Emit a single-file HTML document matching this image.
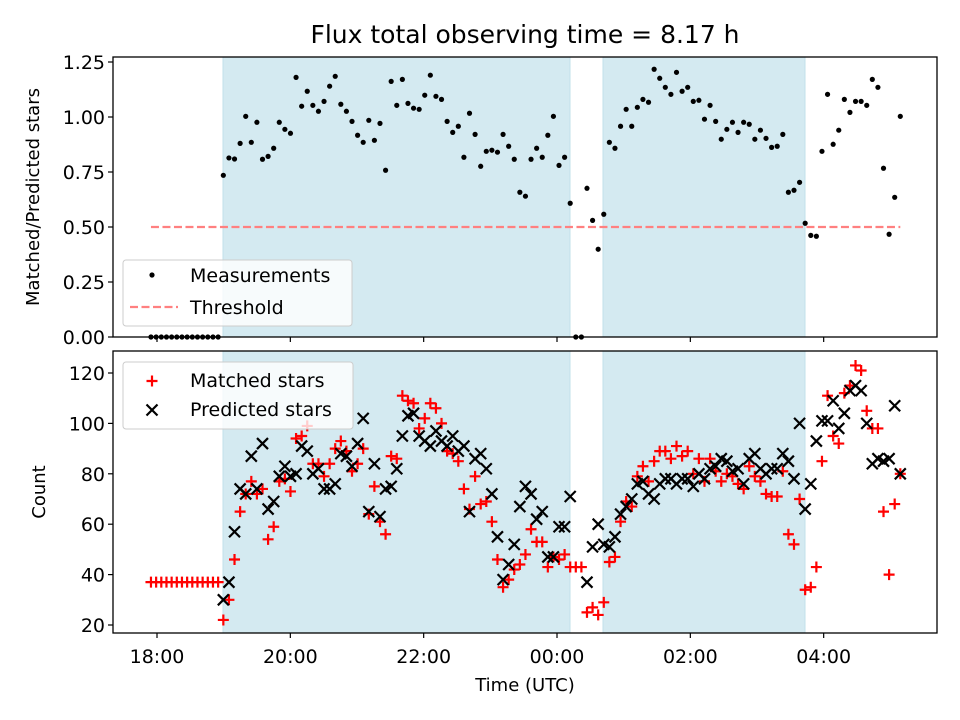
<!DOCTYPE html>
<html><head><meta charset="utf-8"><style>
body{margin:0;background:#fff}
svg{display:block;font-family:"DejaVu Sans","Liberation Sans",sans-serif}
</style></head><body>
<svg id="chart" width="960" height="720" viewBox="0 0 960 720" xmlns="http://www.w3.org/2000/svg">
<rect width="960" height="720" fill="#fff"/>
<text x="525" y="43" font-size="25" text-anchor="middle">Flux total observing time = 8.17 h</text>
<g id="gtop"></g><g id="gbot"></g>
<text transform="translate(39,197) rotate(-90)" font-size="18" text-anchor="middle">Matched/Predicted stars</text>
<text transform="translate(45,492) rotate(-90)" font-size="18" text-anchor="middle">Count</text>
<text x="525" y="691" font-size="18" text-anchor="middle">Time (UTC)</text>
</svg>
<script>
const startHour = 18.995;
const stepHour = 0.08392;
const prefixStepHour = 0.0775;
const prefixCount = 14;
const prefixMatched = 37;
const ratios = [.735,.814,.809,.880,1.003,.885,.976,.808,.821,.858,.976,.944,.926,1.180,1.049,1.117,1.053,1.026,1.071,1.140,1.185,1.058,1.026,.980,.917,.885,.985,.894,.971,.758,1.162,1.053,1.171,1.062,1.040,1.035,1.099,1.190,1.094,1.080,.980,.930,.958,.817,1.017,.921,.776,.844,.849,.840,.921,.867,.808,.658,.640,.808,
.858,.817,.917,1.003,.780,.817,.608,0,0,.676,.530,.399,.558,.885,.858,.958,1.035,.958,1.044,1.080,1.067,1.217,1.176,1.135,1.103,1.203,1.117,1.135,1.071,1.076,.990,1.053,.980,.899,.944,.976,.930,.976,.967,.899,.940,.903,.862,.867,.921,.658,.667,.703,.517,.462,.458,.844,1.103,.876,.940,1.080,1.021,1.071,1.071,1.053,1.171,1.135,.767,.467,.635,1.003];
const predicted = [30,37,57,74,72,87,74,92,66,69,79,83,79,80,91,89,80,82,74,74,76,88,87,83,92,102,65,84,63,74,75,82,95,103,104,95,93,91,97,93,91,95,89,91,65,86,88,82,72,55,38,44,52,67,75,72,62,65,47,47,59,59,71,null,null,37,51,60,52,51,55,64,67,70,76,77,72,70,76,78,78,76,78,78,75,80,78,82,83,86,85,81,82,76,86,88,82,80,82,82,88,85,78,100,66,76,93,101,101,109,98,104,113,115,113,100,84,86,85,86,107,80];
const matched = [22,30,46,65,72,77,72,74,54,59,77,78,73,94,95,99,84,84,79,84,90,93,89,81,84,90,64,75,61,56,87,86,111,109,108,98,102,108,106,100,89,88,85,74,66,79,68,69,61,46,35,38,42,44,48,58,53,53,43,47,46,48,43,43,43,25,27,24,29,45,47,61,69,67,79,83,77,85,89,89,86,91,87,89,80,86,77,86,81,77,80,79,76,74,83,79,77,72,71,71,81,56,52,70,34,35,43,85,111,95,92,112,115,123,121,105,98,98,65,40,68,80];
const xTickHours = [18,20,22,24,26,28];
const xTickLabels = ["18:00","20:00","22:00","00:00","02:00","04:00"];
const topTicks = [0,0.25,0.5,0.75,1.0,1.25];
const topTickLabels = ["0.00","0.25","0.50","0.75","1.00","1.25"];
const botTicks = [20,40,60,80,100,120];
const spans = [[18.99,24.195],[24.69,27.72]];
const threshold = 0.5;

const NS="http://www.w3.org/2000/svg";
const X0=113,X1=937;
const xs=h=>157+(h-18)*66.667;
const yTop=v=>337-v*220;
const yBot=v=>625-(v-20)*2.52;
const tAt=i=>i<0?startHour-0.0775+ (i+1)*prefixStepHour - 0.0005 : startHour+i*stepHour;
function mk(p,tag,a){const e=document.createElementNS(NS,tag);for(const k in a)e.setAttribute(k,a[k]);p.appendChild(e);return e;}
const gTop=document.getElementById('gtop'),gBot=document.getElementById('gbot');

function frame(g,y0,y1){
  for(const s of spans){
    const r=mk(g,'rect',{x:xs(s[0]),y:y0,width:xs(s[1])-xs(s[0]),height:y1-y0,fill:'#d4eaf1',stroke:'#c2e0ea','stroke-width':1});
    
    
  }
}
function axesBox(g,y0,y1,name,labels){
  const b=mk(g,'rect',{x:X0,y:y0,width:X1-X0,height:y1-y0,fill:'none',stroke:'#000','stroke-width':1.3});
  
  
  xTickHours.forEach((h,i)=>{
    mk(g,'line',{x1:xs(h),x2:xs(h),y1:y1,y2:y1+5,stroke:'#000','stroke-width':1.2});
    if(labels){const t=mk(g,'text',{x:xs(h),y:663,'font-size':19,'text-anchor':'middle'});t.textContent=xTickLabels[i];
      
      }
  });
}
// TOP
frame(gTop,57,337);
const th=mk(gTop,'line',{x1:xs(tAt(-prefixCount)),x2:xs(tAt(ratios.length-1)),y1:yTop(threshold),y2:yTop(threshold),stroke:'#ff8080','stroke-width':2.2,'stroke-dasharray':'8,3.5'});


for(let i=-prefixCount;i<ratios.length;i++){
  const v=i<0?0:ratios[i];
  const c=mk(gTop,'circle',{cx:xs(tAt(i)),cy:yTop(v),r:2.6,fill:'#000'});
  
  
}
axesBox(gTop,57,337,'top-axes',false);
topTicks.forEach((v,i)=>{
  mk(gTop,'line',{x1:X0-5,x2:X0,y1:yTop(v),y2:yTop(v),stroke:'#000','stroke-width':1.2});
  const t=mk(gTop,'text',{x:X0-8,y:yTop(v)+7,'font-size':19,'text-anchor':'end'});t.textContent=topTickLabels[i];
  
  
});
// BOTTOM
frame(gBot,351,633);
function plus(g,x,y){const p=mk(g,'path',{d:`M${x-5.5},${y}H${x+5.5}M${x},${y-5.5}V${y+5.5}`,stroke:'#f00','stroke-width':2.2});
  
  }
function cross(g,x,y){const p=mk(g,'path',{d:`M${x-5.5},${y-5.5}L${x+5.5},${y+5.5}M${x-5.5},${y+5.5}L${x+5.5},${y-5.5}`,stroke:'#000','stroke-width':2.2});
  
  }
for(let i=-prefixCount;i<matched.length;i++){
  const v=i<0?prefixMatched:matched[i];
  plus(gBot,xs(tAt(i)),yBot(v));
}
predicted.forEach((v,i)=>{ if(v!==null) cross(gBot,xs(tAt(i)),yBot(v)); });
axesBox(gBot,351,633,'bottom-axes',true);
botTicks.forEach(v=>{
  mk(gBot,'line',{x1:X0-5,x2:X0,y1:yBot(v),y2:yBot(v),stroke:'#000','stroke-width':1.2});
  const t=mk(gBot,'text',{x:X0-8,y:yBot(v)+7,'font-size':19,'text-anchor':'end'});t.textContent=String(v);
  
  
});
// LEGENDS
const l1=mk(gTop,'rect',{x:123,y:260,width:229,height:66,rx:3,fill:'#fff','fill-opacity':0.8,stroke:'#ccc'});


mk(gTop,'circle',{cx:152,cy:275,r:2.6,fill:'#000'});
let t=mk(gTop,'text',{x:190,y:282,'font-size':19});t.textContent='Measurements';


mk(gTop,'line',{x1:130,x2:178,y1:307,y2:307,stroke:'#ff8080','stroke-width':2.2,'stroke-dasharray':'8,3.5'});
t=mk(gTop,'text',{x:190,y:314,'font-size':19});t.textContent='Threshold';


const l2=mk(gBot,'rect',{x:123,y:362,width:230,height:67,rx:3,fill:'#fff','fill-opacity':0.8,stroke:'#ccc'});


plus(gBot,152,381);
t=mk(gBot,'text',{x:190,y:387,'font-size':19});t.textContent='Matched stars';


cross(gBot,152,410);
t=mk(gBot,'text',{x:190,y:416,'font-size':19});t.textContent='Predicted stars';


</script>
</body></html>
